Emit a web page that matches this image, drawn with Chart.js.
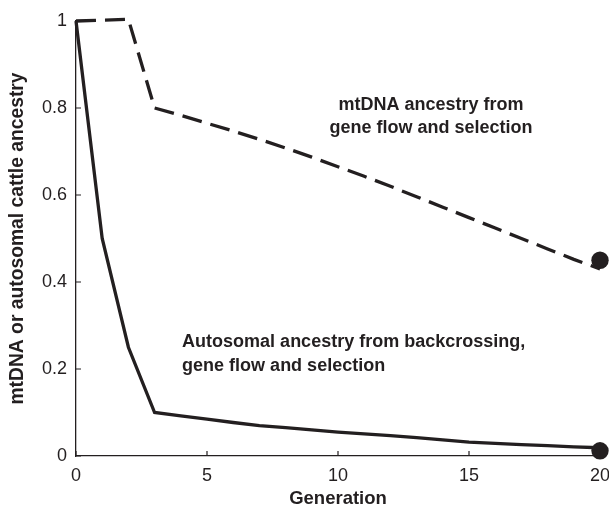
<!DOCTYPE html>
<html>
<head>
<meta charset="utf-8">
<script src="https://cdn.jsdelivr.net/npm/chart.js@4.4.1/dist/chart.umd.min.js"></script>
<style>
  html, body { margin: 0; padding: 0; background: #fff; }
  #wrap { width: 609px; height: 510px; }
</style>
</head>
<body>
<div id="wrap"><canvas id="c" width="609" height="510"></canvas></div>
<script>
// ---- data ----
const generations = [0,1,2,3,4,5,6,7,8,9,10,11,12,13,14,15,16,17,18,19,20];
const mtdnaGenerations = [0,2,3,4,5,6,7,8,9,10,11,12,13,14,15,16,17,18,19,20];
const mtdnaAncestry = [1.0,1.004,0.80,0.783,0.765,0.747,0.728,0.708,0.687,0.665,0.643,0.620,0.596,0.572,0.548,0.524,0.500,0.476,0.452,0.430];
const autosomalAncestry = [1.0,0.50,0.25,0.10,0.092,0.085,0.077,0.070,0.065,0.060,0.055,0.051,0.047,0.042,0.037,0.032,0.029,0.026,0.024,0.021,0.019];
const endMarkers = [{x:20, y:0.45}, {x:20, y:0.012}];
const xTicks = [0,5,10,15,20];
const yTicks = [0,0.2,0.4,0.6,0.8,1];
const labelMt = ["mtDNA ancestry from", "gene flow and selection"];
const labelAuto = ["Autosomal ancestry from backcrossing,", "gene flow and selection"];
const labelMtAnchor = {x: 13.55, y: 0.807};
const labelAutoAnchor = {x: 4.05, y: 0.262};
const xTitle = "Generation";
const yTitle = "mtDNA or autosomal cattle ancestry";

const INK = '#231f20';
const FONT = '"Liberation Sans", Arial, Helvetica, sans-serif';

const inwardTicks = {
  id: 'inwardTicks',
  afterDatasetsDraw(chart) {
    const ctx = chart.ctx;
    const xs = chart.scales.x, ys = chart.scales.y;
    const area = chart.chartArea;
    ctx.save();
    ctx.strokeStyle = INK;
    ctx.lineWidth = 1.2;
    ctx.beginPath();
    xTicks.forEach(v => {
      const px = xs.getPixelForValue(v);
      ctx.moveTo(px, area.bottom);
      ctx.lineTo(px, area.bottom - 5);
    });
    yTicks.forEach(v => {
      const py = ys.getPixelForValue(v);
      ctx.moveTo(area.left, py);
      ctx.lineTo(area.left + 5, py);
    });
    ctx.stroke();
    ctx.restore();
  }
};

const textLabels = {
  id: 'textLabels',
  afterDatasetsDraw(chart) {
    const ctx = chart.ctx;
    const xs = chart.scales.x, ys = chart.scales.y;
    ctx.save();
    ctx.fillStyle = INK;
    ctx.font = 'bold 18px ' + FONT;
    ctx.textBaseline = 'middle';
    ctx.textAlign = 'center';
    let cx = xs.getPixelForValue(labelMtAnchor.x);
    let cy = ys.getPixelForValue(labelMtAnchor.y);
    labelMt.forEach((t, i) => ctx.fillText(t, cx, cy + i * 23));
    ctx.textAlign = 'left';
    cx = xs.getPixelForValue(labelAutoAnchor.x);
    cy = ys.getPixelForValue(labelAutoAnchor.y);
    labelAuto.forEach((t, i) => ctx.fillText(t, cx, cy + i * 24));
    ctx.restore();
  }
};

new Chart(document.getElementById('c'), {
  type: 'line',
  data: {
    datasets: [
      {
        label: 'mtDNA',
        data: mtdnaGenerations.map((g, i) => ({x: g, y: mtdnaAncestry[i]})),
        borderColor: INK,
        borderWidth: 3.3,
        borderDash: [20, 9],
        pointRadius: 0,
        tension: 0,
        fill: false,
        clip: false
      },
      {
        label: 'Autosomal',
        data: generations.map((g, i) => ({x: g, y: autosomalAncestry[i]})),
        borderColor: INK,
        borderWidth: 3.3,
        pointRadius: 0,
        tension: 0,
        fill: false,
        clip: false
      },
      {
        label: 'end',
        type: 'scatter',
        data: endMarkers,
        backgroundColor: INK,
        borderColor: INK,
        borderWidth: 0,
        pointRadius: 8.7,
        showLine: false,
        clip: false
      }
    ]
  },
  options: {
    responsive: false,
    animation: false,
    devicePixelRatio: 1,
    layout: { padding: { left: 0, right: 0, top: 21, bottom: 0 } },
    plugins: { legend: { display: false }, tooltip: { enabled: false } },
    scales: {
      x: {
        type: 'linear',
        min: 0, max: 20,
        afterBuildTicks: s => { s.ticks = xTicks.map(v => ({value: v})); },
        afterFit: s => { s.height = 54; s.paddingRight = 9; },
        grid: { display: true, drawOnChartArea: false, drawTicks: false },
        border: { display: true, color: INK, width: 1.3 },
        ticks: { color: INK, font: { family: FONT, size: 18 }, padding: 9, maxRotation: 0 },
        title: { display: true, text: xTitle, color: INK, font: { family: FONT, size: 18.5, weight: 'bold' }, padding: { top: 0, bottom: 0 } }
      },
      y: {
        type: 'linear',
        min: 0, max: 1,
        afterBuildTicks: s => { s.ticks = yTicks.map(v => ({value: v})); },
        afterFit: s => { s.width = 76; },
        grid: { display: true, drawOnChartArea: false, drawTicks: false },
        border: { display: true, color: INK, width: 1.3 },
        ticks: { color: INK, font: { family: FONT, size: 18 }, padding: 9, callback: v => String(v) },
        title: { display: true, text: yTitle, color: INK, font: { family: FONT, size: 19.3, weight: 'bold' }, padding: { top: 6, bottom: 0 } }
      }
    }
  },
  plugins: [inwardTicks, textLabels]
});
</script>
</body>
</html>
